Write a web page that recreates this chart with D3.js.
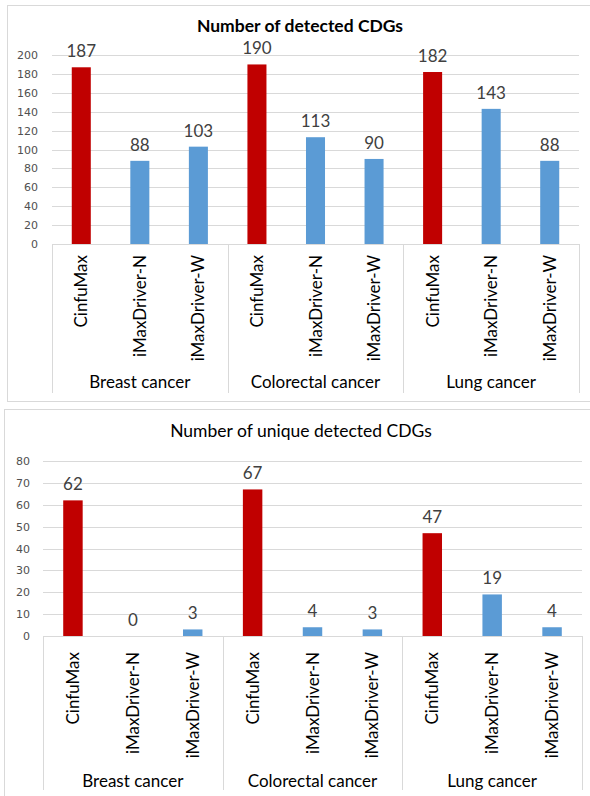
<!DOCTYPE html>
<html>
<head>
<meta charset="utf-8">
<script src="https://cdn.jsdelivr.net/npm/d3@7"></script>
<style>
  html, body { margin: 0; padding: 0; background: #fff; }
  svg { display: block; }
</style>
</head>
<body>
<svg id="chart" width="590" height="796"></svg>
<script>
// Cancer types and the detection methods compared within each one
const cancerTypes = ["Breast cancer", "Colorectal cancer", "Lung cancer"];
const methods = ["CinfuMax", "iMaxDriver-N", "iMaxDriver-W"];

// Number of detected CDGs, in cancer-type order, methods within each
const detectedCounts = [187, 88, 103, 190, 113, 90, 182, 143, 88];
// Number of CDGs detected only by that method
const uniqueCounts = [62, 0, 3, 67, 4, 3, 47, 19, 4];

const detectedTicks = [0, 20, 40, 60, 80, 100, 120, 140, 160, 180, 200];
const uniqueTicks = [0, 10, 20, 30, 40, 50, 60, 70, 80];

const methodColors = { "CinfuMax": "#C00000", "iMaxDriver-N": "#5B9BD5", "iMaxDriver-W": "#5B9BD5" };
const labelFont = "Lato, 'Open Sans', sans-serif";

const svg = d3.select("#chart");

// Flatten into one row per bar
function rows(values) {
  const out = [];
  cancerTypes.forEach((c, ci) => methods.forEach((m, mi) => {
    out.push({ key: c + "|" + m, cancer: c, method: m, value: values[ci * methods.length + mi] });
  }));
  return out;
}

function drawPanel(cfg) {
  const g = svg.append("g");

  // chart frame
  g.append("rect")
    .attr("x", cfg.frame[0] + 0.5).attr("y", cfg.frame[1] + 0.5)
    .attr("width", cfg.frame[2]).attr("height", cfg.frame[3])
    .attr("fill", "#fff").attr("stroke", "#D9D9D9").attr("stroke-width", 1);

  const data = rows(cfg.values);
  const x = d3.scaleBand().domain(data.map(d => d.key))
    .range([cfg.left, cfg.right]).paddingInner(0.675).paddingOuter(0.3375);
  const y = d3.scaleLinear().domain([0, cfg.ticks[cfg.ticks.length - 1]])
    .range([cfg.bottom, cfg.top]);

  // horizontal gridlines
  g.append("g").selectAll("line").data(cfg.ticks).join("line")
    .attr("x1", cfg.left).attr("x2", cfg.right)
    .attr("y1", d => Math.round(y(d)) + 0.5).attr("y2", d => Math.round(y(d)) + 0.5)
    .attr("stroke", "#D9D9D9").attr("stroke-width", 1);

  // value axis labels
  const yAxis = d3.axisLeft(y).tickValues(cfg.ticks).tickSize(0).tickPadding(0);
  const ya = g.append("g").attr("transform", `translate(${cfg.tickRight},0)`).call(yAxis);
  ya.select(".domain").remove();
  ya.selectAll("text")
    .attr("font-family", "'DejaVu Sans', sans-serif").attr("font-size", 11)
    .attr("fill", "#505050");

  // bars
  g.append("g").selectAll("rect").data(data).join("rect")
    .attr("x", d => x(d.key)).attr("width", x.bandwidth())
    .attr("y", d => y(d.value)).attr("height", d => y(0) - y(d.value))
    .attr("fill", d => methodColors[d.method]);

  // value labels
  g.append("g").selectAll("text").data(data).join("text")
    .attr("x", d => x(d.key) + x.bandwidth() / 2)
    .attr("y", d => y(d.value) - 10)
    .attr("text-anchor", "middle")
    .attr("font-family", labelFont).attr("font-size", 17)
    .attr("fill", "#404040")
    .text(d => d.value);

  // category boundaries below the axis
  const groupW = (cfg.right - cfg.left) / cancerTypes.length;
  const seps = d3.range(cancerTypes.length + 1).map(i => cfg.left + i * groupW);
  g.append("g").selectAll("line").data(seps).join("line")
    .attr("x1", d => Math.round(d) + 0.5).attr("x2", d => Math.round(d) + 0.5)
    .attr("y1", cfg.bottom).attr("y2", cfg.sepEnd)
    .attr("stroke", "#D9D9D9").attr("stroke-width", 1);

  // method labels, rotated
  g.append("g").selectAll("text").data(data).join("text")
    .attr("transform", d => `translate(${x(d.key) + x.bandwidth() / 2 + 6},${cfg.bottom + cfg.methodGap}) rotate(-90)`)
    .attr("text-anchor", "end")
    .attr("font-family", labelFont).attr("font-size", 17)
    .attr("fill", "#000")
    .text(d => d.method);

  // cancer type labels
  g.append("g").selectAll("text").data(cancerTypes).join("text")
    .attr("x", (d, i) => cfg.left + (i + 0.5) * groupW)
    .attr("y", cfg.catY)
    .attr("text-anchor", "middle")
    .attr("font-family", labelFont).attr("font-size", 17)
    .attr("fill", "#000")
    .text(d => d);

  // title
  g.append("text")
    .attr("x", cfg.titleX).attr("y", cfg.titleY)
    .attr("text-anchor", "middle")
    .attr("font-family", labelFont).attr("font-size", cfg.titleSize)
    .attr("font-weight", cfg.titleWeight)
    .attr("fill", "#000")
    .text(cfg.title);
}

drawPanel({
  frame: [7, 5, 600, 396],
  values: detectedCounts, ticks: detectedTicks,
  left: 52, right: 579, top: 55, bottom: 244, tickRight: 38,
  sepEnd: 393, methodGap: 11, catY: 388,
  title: "Number of detected CDGs", titleX: 300, titleY: 32, titleWeight: "bold", titleSize: 17.5
});

drawPanel({
  frame: [4, 409, 600, 400],
  values: uniqueCounts, ticks: uniqueTicks,
  left: 43, right: 582, top: 461, bottom: 636, tickRight: 30,
  sepEnd: 790, methodGap: 16, catY: 787,
  title: "Number of unique detected CDGs", titleX: 301, titleY: 437, titleWeight: "normal", titleSize: 17.5
});
</script>
</body>
</html>
